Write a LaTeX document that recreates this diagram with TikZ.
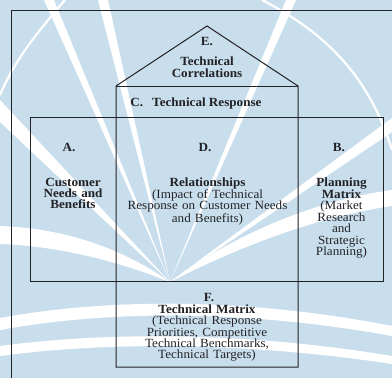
\documentclass[tikz,border=0pt]{standalone}
\usepackage{fontspec}
\setmainfont[FakeStretch=1.05]{Liberation Serif}
\definecolor{paper}{RGB}{201,222,236}
\definecolor{ink}{RGB}{34,34,38}
\begin{document}
\begin{tikzpicture}[x=1pt,y=-1pt,line join=miter,
  frame/.style={draw=ink,line width=1pt},
  glow/.style={fill=white,draw=none},
  glowline/.style={draw=white,line width=2.2pt},
  letter/.style={font=\fontsize{12.5}{11.4}\selectfont\bfseries,text=ink,inner sep=0pt,anchor=base},
  body/.style={font=\fontsize{12.5}{11.4}\selectfont,align=center,text=ink,inner sep=0pt,anchor=base}]
\useasboundingbox (0,0) rectangle (392,378);
\fill[paper] (0,0) rectangle (392,378);

% faint emblem in the background: rays, rings and waves
\coordinate (focus) at (170,282);
\fill[glow] (focus) -- (0,100) -- (0,122) -- cycle;
\fill[glow] (focus) -- (44,0) -- (54,0) -- cycle;
\fill[glow] (focus) -- (98,0) -- (108,0) -- cycle;
\fill[glow] (focus) -- (286,0) -- (296,0) -- cycle;
\fill[glow] (focus) -- (392,118) -- (392,132) -- cycle;
\fill[glow] (focus) .. controls (110,240) and (50,228) .. (0,226)
  -- (0,244) .. controls (60,246) and (120,262) .. (focus);
\fill[glow] (focus) .. controls (240,230) and (320,200) .. (392,190)
  -- (392,206) .. controls (320,216) and (240,246) .. (focus);
\fill[glow] (0,318) .. controls (120,296) and (260,300) .. (392,326)
  -- (392,336) .. controls (260,312) and (120,308) .. (0,330) -- cycle;
\fill[glow] (0,346) .. controls (120,330) and (260,334) .. (392,356)
  -- (392,364) .. controls (260,344) and (120,340) .. (0,356) -- cycle;
\draw[glowline] (0,95) .. controls (15,60) and (35,35) .. (65,0);
\draw[glowline] (262,0) .. controls (330,35) and (370,80) .. (392,150);

% outer frame, running off the page
\coordinate (outerTR) at (392,10);
\coordinate (outerTL) at (11,10);
\coordinate (outerBL) at (11,378);
\draw[frame] (outerTR) -- (outerTL) -- (outerBL);

% customer / planning band
\coordinate (bandNW) at (30,117);
\coordinate (bandSE) at (383,281);
\draw[frame] (bandNW) rectangle (bandSE);

% house column with its roof
\coordinate (houseSW) at (116,367);
\coordinate (eaveL) at (116,86);
\coordinate (ridge) at (207,26);
\coordinate (eaveR) at (298,86);
\coordinate (houseSE) at (298,367);
\draw[frame] (houseSW) -- (eaveL) -- (ridge) -- (eaveR) -- (houseSE) -- cycle;
\draw[frame] (eaveL) -- (eaveR);

% section texts (positions are first baselines)
\node[letter] (eHead) at (207,45.7) {E.};
\node[body,text width=90pt] (eText) at (207,65.7) {\bfseries Technical\\Correlations};

\node[letter] (cText) at (196,106) {C.\hspace{9pt}Technical Response};

\node[letter] (aHead) at (69,151.7) {A.};
\node[body,text width=80pt] (aText) at (73,186) {\bfseries Customer\\Needs and\\Benefits};

\node[letter] (dHead) at (205,151.7) {D.};
\node[body,text width=175pt] (dText) at (207.5,186) {\textbf{Relationships}\\(Impact of Technical\\Response on Customer Needs\\and Benefits)};

\node[letter] (bHead) at (339,151.7) {B.};
\node[body,text width=80pt] (bText) at (341.5,186) {\textbf{Planning}\\\textbf{Matrix}\\(Market\\Research\\and\\Strategic\\Planning)};

\node[letter] (fHead) at (209,301) {F.};
\node[body,text width=150pt] (fText) at (207,313.3) {\textbf{Technical Matrix}\\(Technical Response\\Priorities, Competitive\\Technical Benchmarks,\\Technical Targets)};
\end{tikzpicture}
\end{document}
